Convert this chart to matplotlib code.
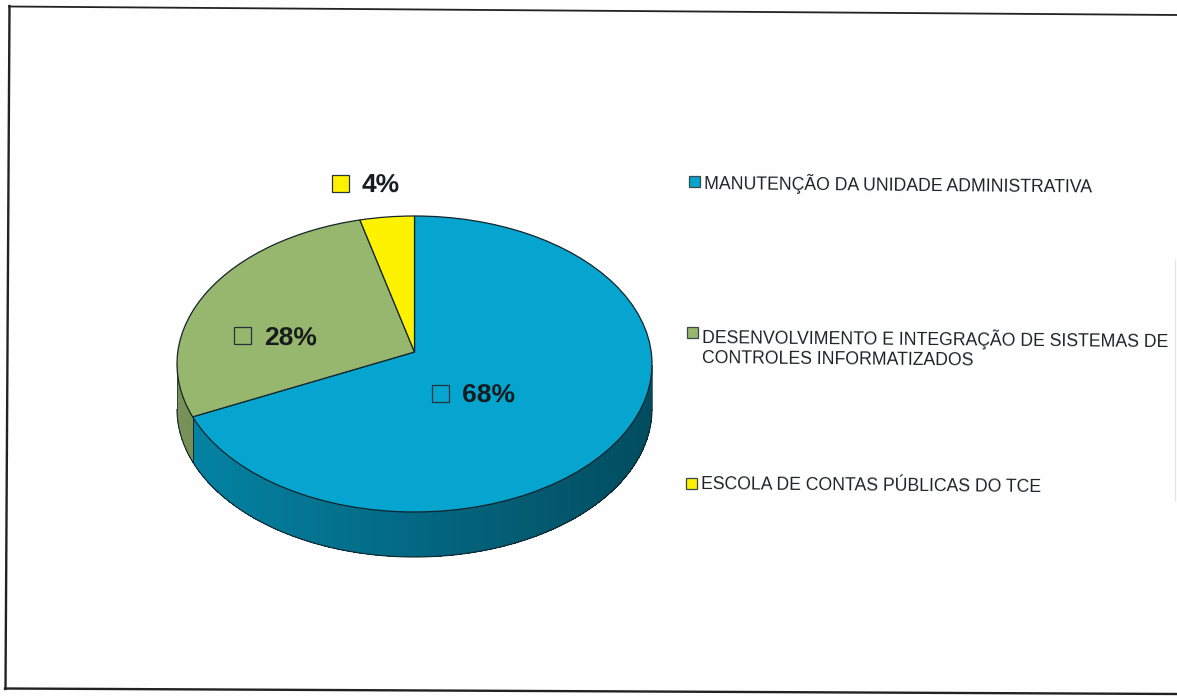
import numpy as np
import matplotlib
matplotlib.use("Agg")
import matplotlib.pyplot as plt
from matplotlib.transforms import Transform
from matplotlib.patches import Rectangle

# ---- data ----
categories = ["MANUTENÇÃO DA UNIDADE ADMINISTRATIVA",
              "DESENVOLVIMENTO E INTEGRAÇÃO DE SISTEMAS DE\nCONTROLES INFORMATIZADOS",
              "ESCOLA DE CONTAS PÚBLICAS DO TCE"]
values = [68, 28, 4]

# ---- styles and layout ----
colors = ["#05A5CF", "#97B66E", "#FFF200"]
W, H = 1177, 697
CX, CY, RX, RY = 414.5, 364.0, 237.5, 148.0   # pie ellipse in pixels
TILT = 12.0 / RY                              # perspective shift of the pie centre
DEPTH = 45.0 / RY


def persp_xy(x, y):
    """Perspective of a tilted disc: keeps the unit circle, moves its centre up."""
    d = 1 + TILT * y
    return x * np.sqrt(1 - TILT ** 2) / d, (y + TILT) / d


class Persp(Transform):
    input_dims = output_dims = 2

    def transform_non_affine(self, xy):
        xy = np.asarray(xy, float)
        return np.column_stack(persp_xy(xy[:, 0], xy[:, 1]))


plt.rcParams["font.family"] = ["Liberation Sans", "DejaVu Sans"]
fig = plt.figure(figsize=(W / 100, H / 100), dpi=100, facecolor="#FEFEFE")

# pie axes: one data unit = the ellipse radii
ax = fig.add_axes([0, 0, 1, 1], zorder=1)
wedges, _ = ax.pie(values, colors=colors, startangle=90, counterclock=False,
                   wedgeprops=dict(edgecolor="#14242B", linewidth=0.9, zorder=5))
ax.set_aspect("auto")
ax.set_xlim(-CX / RX, (W - CX) / RX)
ax.set_ylim(-(H - CY) / RY, CY / RY)
ax.axis("off")
persp = Persp()
for w in wedges:
    w.set_transform(persp + ax.transData)

# side wall of the pie, taken from the same shares
fractions = np.array(values, float) / np.sum(values)
edges = np.concatenate([[0], np.cumsum(fractions)]) * 2 * np.pi
for start, stop, col in zip(edges[:-1], edges[1:], colors):
    t = np.linspace(start, stop, max(int((stop - start) * 60), 2))
    xs, ys = persp_xy(np.sin(t), np.cos(t))
    keep = ys <= 0
    xs, ys = xs[keep], ys[keep]
    if len(xs) < 2:
        continue
    rgb = np.array(matplotlib.colors.to_rgb(col))
    for i in range(len(xs) - 1):
        shade = 0.80 - 0.34 * (0.5 * (xs[i] + xs[i + 1]) + 1) / 2
        ax.fill([xs[i], xs[i + 1], xs[i + 1], xs[i]],
                [ys[i], ys[i + 1], ys[i + 1] - DEPTH, ys[i] - DEPTH],
                facecolor=rgb * shade, edgecolor="none", antialiased=False, zorder=2)
    ax.plot(xs, ys - DEPTH, color="#14242B", lw=0.8, zorder=3)
    ax.plot([xs[0], xs[0]], [ys[0], ys[0] - DEPTH], color="#14242B", lw=0.5, zorder=3)
    ax.plot([xs[-1], xs[-1]], [ys[-1], ys[-1] - DEPTH], color="#14242B", lw=0.5, zorder=3)

# overlay in pixel coordinates for the scanned frame, labels and legend
ov = fig.add_axes([0, 0, 1, 1], zorder=2)
ov.set_xlim(0, W)
ov.set_ylim(H, 0)
ov.axis("off")
ov.patch.set_alpha(0)

# scanned frame
ov.plot([9, 1177], [6.5, 15], color="#222222", lw=1.3)
ov.plot([9.5, 5.5], [6, 689], color="#222222", lw=1.7)
ov.plot([5, 1177], [688.5, 694], color="#222222", lw=1.7)
ov.plot([1175, 1175], [260, 500], color="#E4E4E4", lw=0.8)

# percentage labels with their small keys
key_pos = [(440, 393), (242, 335), (340, 183)]
lab_pos = [(462, 395), (264, 338), (362, 185)]
key_fill = ["none", "none", colors[2]]
for v, kp, lp, kf in zip(values, key_pos, lab_pos, key_fill):
    ov.add_patch(Rectangle((kp[0] - 8.5, kp[1] - 8.5), 17, 17, facecolor=kf,
                           edgecolor="#24343A", lw=0.9))
    ov.text(lp[0], lp[1], f"{v}%", fontsize=19, fontweight="bold", color="#15191C",
            ha="left", va="center", rotation=-0.4)

# legend
leg_key = [(694, 181), (692, 332), (691, 483)]
leg_txt = [(704, 183), (702, 347), (701, 485)]
for cat, col, kp, tp in zip(categories, colors, leg_key, leg_txt):
    ov.add_patch(Rectangle((kp[0] - 5.5, kp[1] - 5.5), 11, 11, facecolor=col,
                           edgecolor="#3A4A4A", lw=0.9))
    ov.text(tp[0], tp[1], cat, fontsize=12.7, color="#1E2224", ha="left", va="center",
            rotation=-0.5, rotation_mode="anchor", linespacing=1.27)

fig.savefig("out.png", dpi=100, facecolor=fig.get_facecolor())
